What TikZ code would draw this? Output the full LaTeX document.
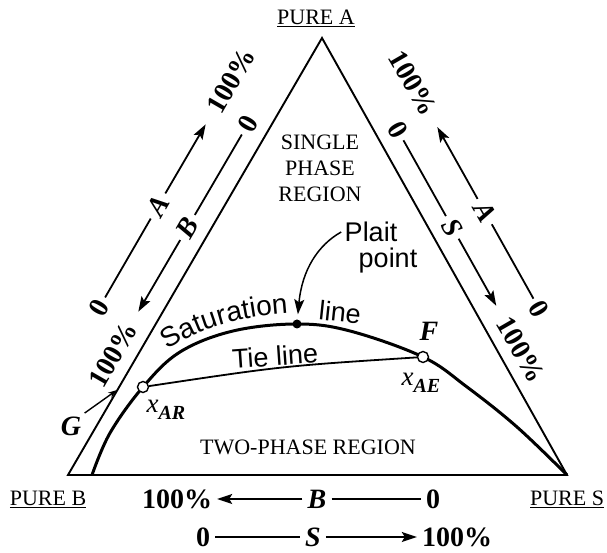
\documentclass[tikz,border=0pt]{standalone}
\usepackage{fontspec}
\setmainfont{Liberation Serif}
\setsansfont{Liberation Sans}
\usetikzlibrary{arrows.meta,decorations.text}

\tikzset{
  purelbl/.style={font=\fontsize{22}{22}\selectfont, inner sep=1pt},
  regionlbl/.style={font=\fontsize{22}{26}\selectfont, align=center},
  curvelbl/.style={font=\sffamily\fontsize{27}{27}\selectfont},
  scalenum/.style={font=\bfseries\fontsize{28}{28}\selectfont, inner sep=5pt},
  scalelet/.style={font=\bfseries\itshape\fontsize{28}{28}\selectfont, inner sep=5pt},
  ptlbl/.style={font=\bfseries\itshape\fontsize{28}{28}\selectfont},
  xlbl/.style={font=\itshape\fontsize{27}{27}\selectfont},
  opendot/.style={circle, draw, fill=white, line width=1.4pt, inner sep=0pt, minimum size=11pt},
  soliddot/.style={circle, fill, inner sep=0pt, minimum size=9pt},
  scaleline/.style={line width=1.8pt},
  arr/.style={-{Stealth[length=15pt,width=10pt,inset=3pt]}},
}
\newcommand{\xsub}[1]{x\raisebox{-7pt}{\bfseries\fontsize{20}{20}\selectfont #1}}

\begin{document}
\begin{tikzpicture}[x=1pt,y=1pt]
\useasboundingbox (0,0) rectangle (607,553);
% corners
\coordinate (A) at (322,515);
\coordinate (B) at (68,78);
\coordinate (S) at (567,78);
\draw[line width=1.9pt] (A) -- (B) -- (S) -- cycle;

\node[purelbl] (pureA) at (316,535) {\underline{PURE A}};
\node[purelbl] (pureB) at (48,54) {\underline{PURE B}};
\node[purelbl] (pureS) at (567,54) {\underline{PURE S}};

\node[regionlbl] (single) at (320,385) {SINGLE\\PHASE\\REGION};
\node[regionlbl] (two) at (308,106) {TWO-PHASE REGION};

% saturation curve
\draw[line width=3pt] plot[smooth, tension=0.6] coordinates {(92,78) (110,120) (143,166) (180,201) (233,222) (297,229) (350,222) (423,196) (467,166) (517,126) (567,78)};
\path[decorate, decoration={text along path, text align=center,
  text={|\sffamily\fontsize{28}{28}\selectfont|Saturation}}]
  (158,196) .. controls (192,223) and (235,237) .. (300,240);

\node[opendot] (xar) at (143,166) {};
\node[opendot] (f) at (423,196) {};
\node[soliddot] (plait) at (297,229) {};
\draw[line width=1.8pt] (xar) .. controls (283,187) .. (f);

\node[curvelbl, rotate=4] (tie) at (275,197) {Tie line};
\node[curvelbl, rotate=-6] (satline) at (340,241) {line};
\node[curvelbl] (plaitA) at (371,321) {Plait};
\node[curvelbl] (plaitB) at (388,292) {point};
\draw[arr, line width=1.5pt, shorten >=5pt] (plaitA.west) .. controls (318,308) and (302,283) .. (plait);

\node[ptlbl] (flbl) at (429,222) {F};
\node[xlbl] (xarlbl) at (166,143) {\xsub{AR}};
\node[xlbl] (xaelbl) at (421,170) {\xsub{AE}};
\node[ptlbl] (glbl) at (71,127) {G};
\coordinate (G) at (117,163);
\draw[-{Stealth[length=9pt,width=6pt]}, line width=1.4pt] (glbl.north east) -- (G);

% left side scales
\node[scalenum, rotate=60] (la0) at (99,245) {0};
\node[scalelet, rotate=60] (laA) at (158,347) {A};
\node[scalenum, rotate=60] (la100) at (231,472) {100\%};
\draw[scaleline] (la0) -- (laA);
\draw[scaleline, arr, shorten >=10pt] (laA) -- (la100);
\node[scalenum, rotate=60] (lb100) at (113,198) {100\%};
\node[scalelet, rotate=60] (lbB) at (187.5,325.5) {B};
\node[scalenum, rotate=60] (lb0) at (248,429) {0};
\draw[scaleline] (lb0) -- (lbB);
\draw[scaleline, arr, shorten >=10pt] (lbB) -- (lb100);

% right side scales
\node[scalenum, rotate=-60] (ra0) at (539.4,243.7) {0};
\node[scalelet, rotate=-60] (raA) at (484.7,341.4) {A};
\node[scalenum, rotate=-60] (ra100) at (412.8,469.7) {100\%};
\draw[scaleline] (ra0) -- (raA);
\draw[scaleline, arr, shorten >=10pt] (raA) -- (ra100);
\node[scalenum, rotate=-60] (rs0) at (397.5,423.3) {0};
\node[scalelet, rotate=-60] (rsS) at (452.3,325.6) {S};
\node[scalenum, rotate=-60] (rs100) at (520.8,203.4) {100\%};
\draw[scaleline] (rs0) -- (rsS);
\draw[scaleline, arr, shorten >=10pt] (rsS) -- (rs100);

% bottom scales
\node[scalenum] (bb100) at (177,54) {100\%};
\node[scalelet] (bbB) at (317,54) {B};
\node[scalenum] (bb0) at (433,54) {0};
\draw[scaleline, arr] (bbB) -- (bb100);
\draw[scaleline] (bbB) -- (bb0);
\node[scalenum] (bs0) at (203,16) {0};
\node[scalelet] (bsS) at (313,16) {S};
\node[scalenum] (bs100) at (457,16) {100\%};
\draw[scaleline] (bs0) -- (bsS);
\draw[scaleline, arr] (bsS) -- (bs100);
\end{tikzpicture}
\end{document}
